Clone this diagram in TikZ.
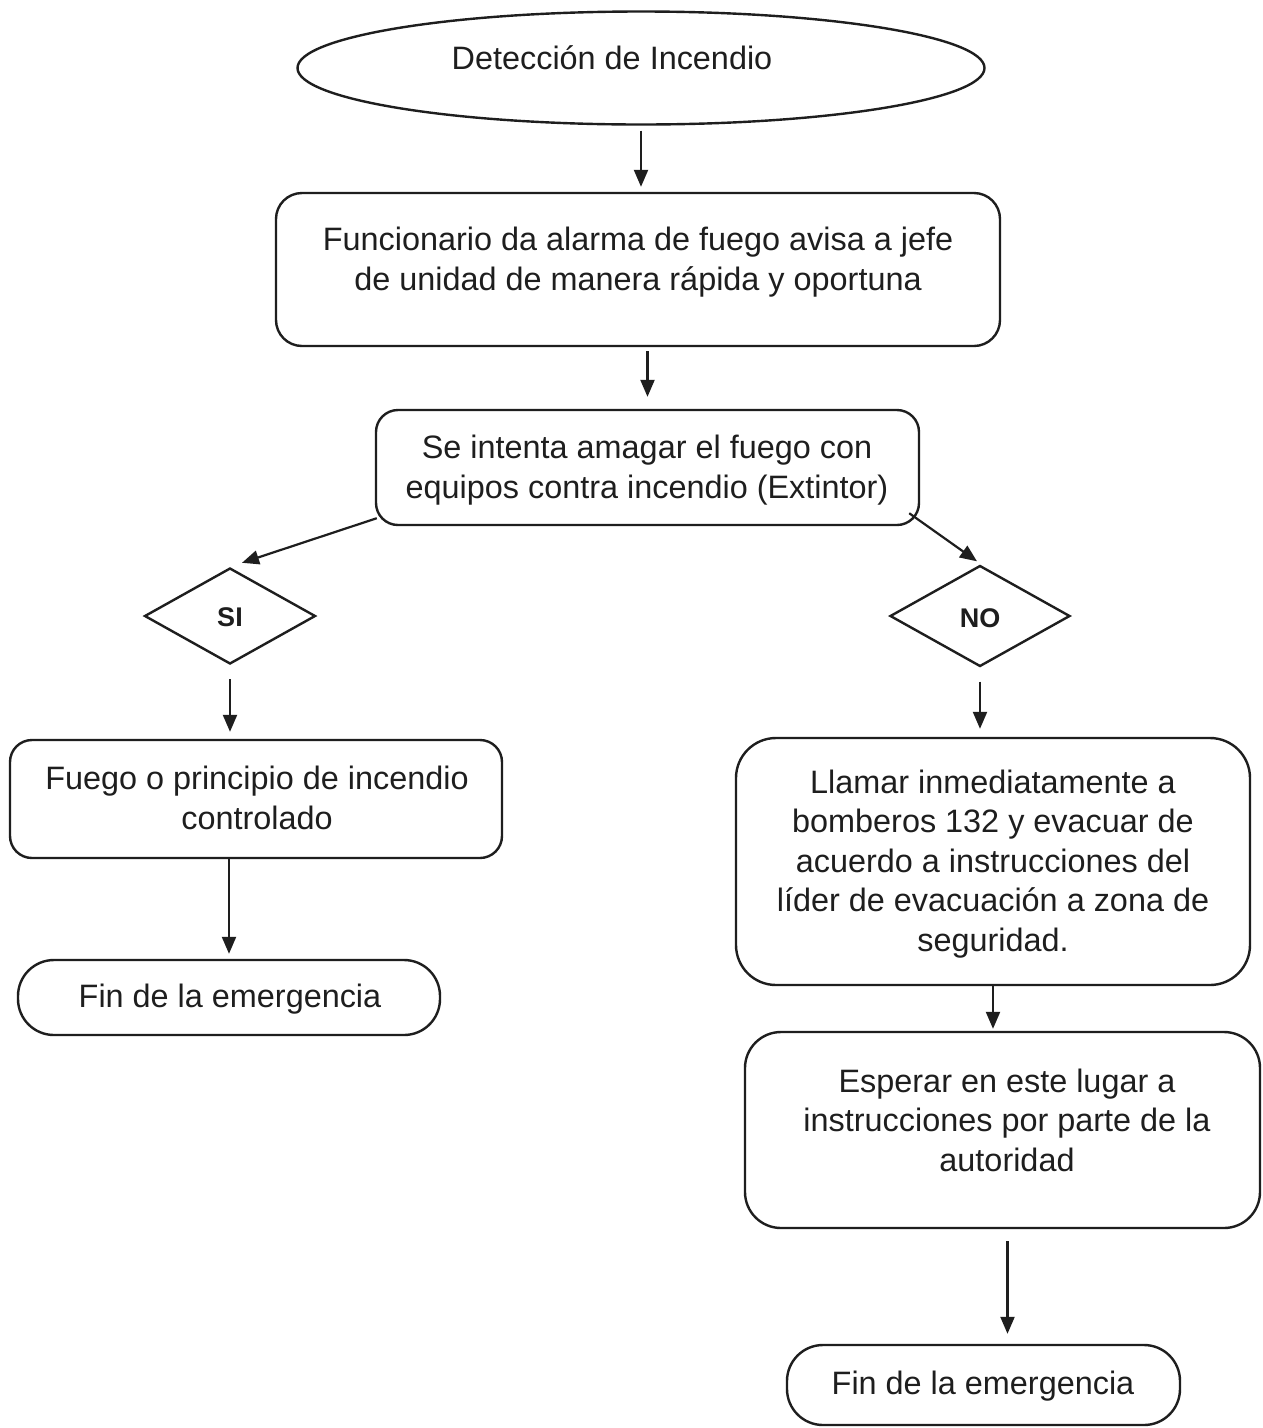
\documentclass[tikz,border=0pt]{standalone}
\usepackage{fontspec}
\setmainfont{Liberation Sans}
\usetikzlibrary{shapes.geometric,arrows.meta,calc}
\definecolor{ink}{HTML}{1E1E1E}
\tikzset{
  shp/.style={draw=ink, line width=2.4pt, inner sep=0pt},
  rbox/.style={shp, rectangle, rounded corners=#1},
  term/.style={shp, rectangle, rounded corners=36pt},
  dec/.style={shp, diamond, aspect=1.78},
  txt/.style={text=ink, align=center, inner sep=0pt, font=\fontsize{32.4}{39.5}\selectfont},
  arr/.style={draw=ink, line width=2.2pt, -{Triangle[length=17pt,width=14pt]}},
}
\begin{document}
\begin{tikzpicture}[x=1pt,y=-1pt]
\useasboundingbox[fill=white] (0,0) rectangle (1262,1428);

% shapes
\node[shp, ellipse, minimum width=687pt, minimum height=113pt] (ell) at (641,68) {};
\node[rbox=26pt, minimum width=724pt, minimum height=153pt] (b1) at (638,269.5) {};
\node[rbox=22pt, minimum width=543pt, minimum height=115pt] (b2) at (647.5,467.5) {};
\node[dec, minimum width=171pt, minimum height=96pt] (si) at (230,616) {};
\node[dec, minimum width=180pt, minimum height=101pt] (no) at (980,616) {};
\node[rbox=22pt, minimum width=492pt, minimum height=118pt] (b3) at (256,799) {};
\node[term, minimum width=422pt, minimum height=75pt] (fin1) at (229,997.5) {};
\node[rbox=40pt, minimum width=514pt, minimum height=247pt] (b4) at (993,861.5) {};
\node[rbox=36pt, minimum width=515pt, minimum height=196pt] (b5) at (1002.5,1130) {};
\node[term, minimum width=393pt, minimum height=80pt] (fin2) at (983.5,1385) {};

% texts
\node[txt] (t0) at (612,58) {Detección de Incendio};
\node[txt] (t1) at (638,262) {Funcionario da alarma de fuego avisa a jefe\\de unidad de manera rápida y oportuna};
\node[txt] (t2) at (647,470) {Se intenta amagar el fuego con\\equipos contra incendio (Extintor)};
\node[txt, font=\fontsize{27}{30}\selectfont\bfseries] (tsi) at (230,617) {SI};
\node[txt, font=\fontsize{27}{30}\selectfont\bfseries] (tno) at (980,618) {NO};
\node[txt] (t3) at (257,798) {Fuego o principio de incendio\\controlado};
\node[txt] (tf1) at (230,999) {Fin de la emergencia};
\node[txt] (t4) at (993,864) {Llamar inmediatamente a\\bomberos 132 y evacuar de\\acuerdo a instrucciones del\\líder de evacuación a zona de\\seguridad.};
\node[txt] (t5) at (1007,1120) {Esperar en este lugar a\\instrucciones por parte de la\\autoridad};
\node[txt] (tf2) at (983,1386) {Fin de la emergencia};

% connectors
\draw[arr, shorten <=5pt, shorten >=5pt] (ell.south) -- (ell.south |- b1.north);
\draw[arr, shorten <=4pt, shorten >=12pt] (b2.north |- b1.south) -- (b2.north);
\draw[arr] ($(b2.south west)+(2,-8)$) -- ($(si.north)+(12,-4)$);
\draw[arr] ($(b2.south east)+(-11,-13)$) -- ($(no.north)+(-3,-3)$);
\draw[arr, shorten <=14pt, shorten >=7pt] (si.south) -- (si.south |- b3.north);
\draw[arr, shorten >=5pt] (fin1.north |- b3.south) -- (fin1.north);
\draw[arr, shorten <=14pt, shorten >=8pt] (no.south) -- (no.south |- b4.north);
\draw[arr, shorten >=2pt] (b4.south) -- (b4.south |- b5.north);
\draw[arr, shorten <=12pt, shorten >=10pt] ($(b5.south)+(5,0)$) -- ($(b5.south |- fin2.north)+(5,0)$);
\end{tikzpicture}
\end{document}
